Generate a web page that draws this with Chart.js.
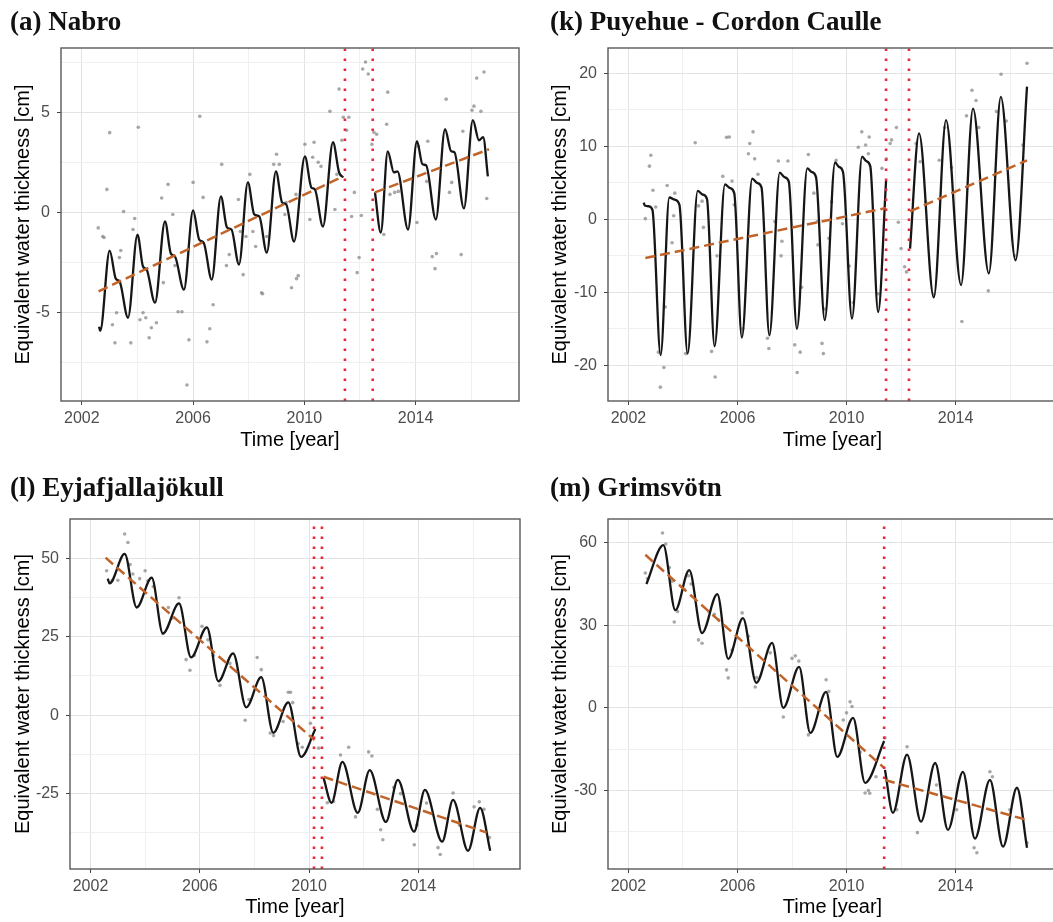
<!DOCTYPE html>
<html><head><meta charset="utf-8">
<script src="https://cdn.jsdelivr.net/npm/chart.js@4.4.1/dist/chart.umd.min.js"></script>
<style>
html,body{margin:0;padding:0;background:#fff;overflow:hidden;}
#wrap{position:relative;width:1053px;height:922px;overflow:hidden;background:#fff;}
canvas{position:absolute;}
</style></head><body>
<div id="wrap">
<canvas id="cA" width="527" height="460" style="left:0;top:0"></canvas>
<canvas id="cK" width="540" height="460" style="left:527px;top:0"></canvas>
<canvas id="cL" width="527" height="462" style="left:0;top:460px"></canvas>
<canvas id="cM" width="540" height="462" style="left:527px;top:460px"></canvas>
</div>
<script>
// ---------- shared axis values ----------
const xMin = 2001.25, xMax = 2017.72;
const yearGridlines = [2002, 2004, 2006, 2008, 2010, 2012, 2014, 2016];
const yearLabels = [2002, 2006, 2010, 2014];

// ---------- (a) Nabro ----------
const nabroEvents = [2011.46, 2012.46];
const nabroTrend1 = [[2002.6, -3.93], [2011.4, 1.8]];
const nabroTrend2 = [[2012.54, 1.0], [2016.64, 3.15]];
const nabroFit1 = [[2002.62,-5.7],[2002.66,-5.9],[2003.0,-1.9],[2003.22,-3.3],[2003.36,-3.45],[2003.66,-5.25],
  [2004.0,-1.1],[2004.2,-2.7],[2004.33,-2.85],[2004.63,-4.5],[2004.99,-0.45],[2005.2,-2.05],[2005.35,-2.2],[2005.67,-3.85],
  [2006.0,0.1],[2006.22,-1.35],[2006.38,-1.5],[2006.67,-3.35],[2007.0,0.8],[2007.22,-0.75],[2007.38,-0.85],[2007.65,-2.6],
  [2007.97,1.5],[2008.2,-0.1],[2008.38,-0.2],[2008.65,-2.0],[2008.98,2.05],[2009.2,0.5],[2009.35,0.4],[2009.63,-1.45],
  [2010.02,2.8],[2010.25,1.25],[2010.38,1.15],[2010.67,-0.7],[2011.03,3.5],[2011.25,2.0],[2011.4,1.75]];
const nabroFit2 = [[2012.54,1.0],[2012.75,-1.0],[2013.0,3.05],[2013.22,2.0],[2013.35,2.05],[2013.73,-0.85],
  [2014.05,3.55],[2014.25,2.4],[2014.38,2.35],[2014.73,-0.35],[2015.06,4.15],[2015.28,3.05],[2015.4,3.0],[2015.74,0.2],
  [2016.06,4.6],[2016.28,3.6],[2016.43,3.75],[2016.6,1.8]];
const nabroPoints = [[2002.59,-0.77],[2002.75,-1.2],[2002.8,-1.25],[2002.9,1.15],[2003.0,3.98],[2003.1,-5.6],[2003.19,-6.5],
  [2003.25,-5.0],[2003.35,-2.25],[2003.4,-1.9],[2003.5,0.05],[2003.76,-6.5],[2003.84,-0.85],[2003.9,-0.3],[2004.03,4.25],
  [2004.09,-5.35],[2004.2,-5.0],[2004.3,-5.25],[2004.42,-6.25],[2004.5,-5.75],[2004.68,-5.5],[2004.87,0.72],[2004.93,-3.5],
  [2005.1,1.4],[2005.27,-0.1],[2005.35,-2.65],[2005.46,-4.95],[2005.6,-4.95],[2005.78,-8.6],[2005.85,-6.35],[2006.0,1.5],
  [2006.24,4.8],[2006.36,0.75],[2006.5,-6.45],[2006.6,-5.8],[2006.72,-4.6],[2007.03,2.4],[2007.2,-2.65],[2007.3,-2.1],
  [2007.63,0.65],[2007.7,-0.95],[2007.8,-3.1],[2007.9,-1.2],[2008.04,1.9],[2008.15,-0.95],[2008.25,-1.7],[2008.46,-4.0],
  [2008.5,-4.05],[2008.65,-1.2],[2008.9,2.4],[2009.0,2.9],[2009.1,2.4],[2009.3,-0.1],[2009.35,0.5],[2009.54,-3.75],
  [2009.7,0.9],[2009.72,-3.3],[2009.78,-3.15],[2010.02,3.4],[2010.2,-0.35],[2010.3,2.75],[2010.35,3.5],[2010.5,2.5],
  [2010.6,2.3],[2010.92,5.05],[2011.1,0.15],[2011.17,1.9],[2011.25,6.15],[2011.35,3.6],[2011.4,4.75],[2011.52,4.1],
  [2011.6,4.75],[2011.7,-0.2],[2011.8,1.0],[2011.9,-3.0],[2011.97,-2.25],[2012.05,-0.15],[2012.1,7.15],[2012.2,7.5],
  [2012.3,6.9],[2012.43,3.4],[2012.5,4.0],[2012.6,3.9],[2012.86,-1.1],[2012.96,4.4],[2013.0,6.0],[2013.08,0.9],
  [2013.25,1.0],[2013.38,1.05],[2014.05,-0.5],[2014.1,3.3],[2014.4,1.55],[2014.44,3.55],[2014.6,-2.2],[2014.7,-2.8],
  [2014.75,-2.05],[2015.1,5.65],[2015.22,1.0],[2015.3,1.5],[2015.64,-2.1],[2015.7,4.05],[2016.03,5.1],[2016.1,5.3],
  [2016.2,6.7],[2016.35,5.05],[2016.46,7.0],[2016.56,0.7]];
const nabroYGrid = [-7.5, -5, -2.5, 0, 2.5, 5, 7.5];
const nabroYLabels = [-5, 0, 5];

// ---------- (k) Puyehue - Cordon Caulle ----------
const puyEvents = [2011.45, 2012.29];
const puyTrend1 = [[2002.62, -5.3], [2011.45, 1.55]];
const puyTrend2 = [[2012.33, 1.1], [2016.62, 8.1]];
const puyFit1 = [[2002.56,2.3],[2002.6,1.9],[2002.75,1.8],[2002.88,1.3],[2003.18,-18.6],
  [2003.5,3.0],[2003.7,2.7],[2003.87,2.0],[2004.17,-18.4],
  [2004.54,3.9],[2004.72,3.4],[2004.88,2.8],[2005.16,-17.4],
  [2005.54,4.8],[2005.72,4.3],[2005.88,3.6],[2006.16,-16.2],
  [2006.54,5.6],[2006.72,5.0],[2006.88,4.4],[2007.17,-15.9],
  [2007.55,6.4],[2007.72,5.8],[2007.88,5.2],[2008.18,-15.0],
  [2008.56,7.0],[2008.72,6.5],[2008.88,5.8],[2009.2,-13.8],
  [2009.58,7.8],[2009.72,7.2],[2009.87,6.5],[2010.2,-13.6],
  [2010.57,8.6],[2010.72,8.0],[2010.87,7.3],[2011.16,-12.7],[2011.45,5.3]];
const puyFit2 = [[2012.33,-4.0],[2012.66,11.8],[2013.2,-10.7],[2013.65,13.6],[2014.2,-9.0],[2014.64,15.2],
  [2015.22,-7.4],[2015.66,16.8],[2016.2,-5.6],[2016.62,18.2]];
const puyPoints = [[2002.62,0.1],[2002.77,7.3],[2002.82,8.8],[2002.9,4.0],[2003.0,1.7],[2003.1,-18.2],[2003.17,-23.0],
  [2003.3,-20.3],[2003.35,-12.0],[2003.42,4.65],[2003.6,-3.2],[2003.66,0.5],[2003.7,3.6],[2004.1,-18.4],[2004.45,10.5],
  [2004.57,1.85],[2004.7,2.5],[2004.75,-1.1],[2005.05,-18.1],[2005.18,-21.6],[2005.25,-5.0],[2005.46,5.9],[2005.6,11.25],
  [2005.7,11.3],[2005.8,5.25],[2005.88,2.0],[2006.2,-15.0],[2006.4,9.0],[2006.45,10.4],[2006.57,12.0],[2006.63,8.3],
  [2006.75,6.2],[2007.1,-16.3],[2007.15,-17.7],[2007.37,-0.3],[2007.5,8.0],[2007.6,-5.0],[2007.63,-3.0],[2007.85,8.0],
  [2008.1,-17.2],[2008.19,-21.0],[2008.3,-18.2],[2008.35,-9.3],[2008.6,8.9],[2008.8,3.6],[2008.93,-0.3],[2008.95,-3.5],
  [2009.1,-17.0],[2009.15,-18.4],[2009.2,-12.3],[2009.35,-2.6],[2009.45,2.4],[2009.62,8.1],[2009.85,-0.6],[2010.1,-6.4],
  [2010.25,-11.4],[2010.43,9.9],[2010.56,12.0],[2010.7,10.2],[2010.8,9.0],[2010.83,11.3],[2011.16,-10.2],[2011.3,7.0],
  [2011.46,8.3],[2011.6,10.4],[2011.65,10.9],[2011.83,12.6],[2011.9,-0.4],[2012.0,-4.0],[2012.13,-6.5],[2012.2,-7.2],
  [2012.55,10.4],[2012.7,7.9],[2012.9,2.4],[2013.2,-10.3],[2013.4,8.1],[2013.6,12.6],[2013.85,7.1],[2014.23,-14.0],
  [2014.4,14.2],[2014.6,17.7],[2014.75,16.3],[2014.85,12.6],[2015.2,-9.8],[2015.5,14.8],[2015.67,19.9],[2015.86,13.5],
  [2016.17,-5.0],[2016.47,10.2],[2016.62,21.4]];
const puyYGrid = [-20, -15, -10, -5, 0, 5, 10, 15, 20];
const puyYLabels = [-20, -10, 0, 10, 20];

// ---------- (l) Eyjafjallajökull ----------
const eyjaEvents = [2010.18, 2010.47];
const eyjaTrend1 = [[2002.55, 50.2], [2010.2, -7.9]];
const eyjaTrend2 = [[2010.53, -19.6], [2016.5, -37.4]];
const eyjaFit1 = [[2002.63,43.5],[2002.7,42.0],[2003.25,51.4],[2003.69,34.3],[2004.24,43.8],[2004.65,26.0],
  [2005.24,35.6],[2005.68,18.4],[2006.26,28.0],[2006.68,10.8],[2007.22,19.7],[2007.7,2.5],[2008.25,12.1],
  [2008.69,-5.6],[2009.24,4.1],[2009.71,-13.3],[2010.23,-4.4]];
const eyjaFit2 = [[2010.53,-20.0],[2010.82,-27.9],[2011.22,-14.9],[2011.78,-31.1],[2012.22,-17.5],[2012.81,-34.0],
  [2013.25,-20.6],[2013.84,-37.1],[2014.24,-23.8],[2014.87,-40.3],[2015.27,-27.0],[2015.82,-43.2],[2016.26,-29.5],
  [2016.63,-43.2]];
const eyjaPoints = [[2002.59,46.0],[2002.8,43.0],[2003.0,43.0],[2003.25,57.7],[2003.37,55.0],[2003.45,48.0],[2003.55,45.0],
  [2003.8,43.5],[2004.0,46.0],[2004.1,42.8],[2004.3,41.0],[2004.65,26.0],[2004.85,34.3],[2005.0,31.0],[2005.24,37.4],
  [2005.5,17.7],[2005.64,14.3],[2005.8,19.0],[2006.08,28.3],[2006.3,24.0],[2006.5,19.0],[2006.74,9.5],[2007.1,16.5],
  [2007.35,14.0],[2007.66,-1.6],[2007.8,5.0],[2008.1,18.4],[2008.25,14.5],[2008.58,-5.7],[2008.7,-6.5],[2009.05,-2.0],
  [2009.24,7.3],[2009.32,7.3],[2009.4,4.0],[2009.6,-9.0],[2009.75,-10.2],[2010.05,-2.6],[2010.16,2.3],[2010.35,-10.5],
  [2010.67,-27.9],[2010.9,-27.5],[2011.15,-12.7],[2011.45,-10.2],[2011.7,-32.4],[2012.18,-11.7],[2012.3,-13.0],
  [2012.5,-30.0],[2012.62,-36.5],[2012.7,-39.7],[2013.1,-23.0],[2013.35,-25.0],[2013.85,-41.3],[2013.95,-35.0],
  [2014.3,-28.0],[2014.72,-42.2],[2014.8,-44.4],[2015.27,-24.8],[2015.5,-35.0],[2016.04,-29.2],[2016.23,-27.6],
  [2016.4,-30.0],[2016.6,-39.0]];
const eyjaYGrid = [-37.5, -25, -12.5, 0, 12.5, 25, 37.5, 50];
const eyjaYLabels = [-25, 0, 25, 50];

// ---------- (m) Grimsvötn ----------
const grimEvents = [2011.38];
const grimTrend1 = [[2002.62, 55.6], [2011.38, -21.8]];
const grimTrend2 = [[2011.41, -26.2], [2016.62, -40.7]];
const grimFit1 = [[2002.66,45.0],[2003.28,59.1],[2003.72,35.5],[2004.23,50.0],[2004.7,27.2],[2005.26,41.3],
  [2005.66,17.8],[2006.2,32.6],[2006.69,9.1],[2007.27,23.6],[2007.68,0.0],[2008.26,14.9],[2008.67,-9.1],
  [2009.25,5.8],[2009.66,-17.8],[2010.24,-3.6],[2010.68,-27.2],[2011.38,-12.0]];
const grimFit2 = [[2011.41,-22.5],[2011.7,-38.1],[2012.22,-17.0],[2012.73,-41.3],[2013.25,-20.0],[2013.72,-44.3],
  [2014.27,-23.2],[2014.71,-47.5],[2015.26,-26.1],[2015.74,-50.4],[2016.25,-29.0],[2016.62,-50.8]];
const grimPoints = [[2002.62,49.0],[2002.7,47.0],[2003.25,63.5],[2003.37,59.5],[2003.5,51.0],[2003.6,46.0],[2003.68,31.2],
  [2003.8,35.0],[2004.05,43.0],[2004.2,48.0],[2004.3,45.0],[2004.57,24.7],[2004.7,23.5],[2004.95,35.0],[2005.15,34.0],
  [2005.3,32.0],[2005.6,13.8],[2005.66,10.9],[2005.8,21.0],[2006.17,34.5],[2006.4,26.0],[2006.65,7.6],[2006.7,11.0],
  [2007.2,20.0],[2007.68,-3.3],[2008.0,18.0],[2008.12,18.9],[2008.25,17.0],[2008.6,-9.8],[2009.25,10.2],[2009.35,6.0],
  [2009.88,-4.4],[2010.0,-1.8],[2010.13,2.2],[2010.2,0.5],[2010.5,-16.0],[2010.68,-30.9],[2010.8,-30.0],[2010.85,-31.0],
  [2011.08,-25.0],[2011.41,-10.9],[2011.84,-37.0],[2012.22,-14.1],[2012.6,-45.3],[2013.3,-28.0],[2014.04,-37.0],
  [2014.68,-50.8],[2014.78,-52.6],[2015.26,-23.2],[2015.35,-25.0],[2015.99,-37.0],[2016.62,-49.0]];
const grimYGrid = [-45, -30, -15, 0, 15, 30, 45, 60];
const grimYLabels = [-30, 0, 30, 60];

// ---------- drawing ----------
const SANS = "'Liberation Sans', Arial, sans-serif";
const SERIF = "'Liberation Serif', 'Times New Roman', serif";
function pts(pairs) { return pairs.map(p => ({ x: p[0], y: p[1] })); }
function has(list, v) { return list.some(t => Math.abs(t - v) < 1e-6); }

const panelBorder = {
  id: 'panelBorder',
  afterDatasetsDraw(chart) {
    const { ctx, chartArea: a } = chart;
    ctx.save();
    ctx.strokeStyle = '#595959';
    ctx.lineWidth = 1.4;
    ctx.strokeRect(a.left, a.top, a.right - a.left, a.bottom - a.top);
    ctx.restore();
  }
};

function makePanel(id, p) {
  const datasets = [];
  p.events.forEach(yr => datasets.push({
    data: [{ x: yr, y: p.yMin }, { x: yr, y: p.yMax }], showLine: true,
    borderColor: '#e8283a', borderWidth: 2.6, borderDash: [2.6, 7.4], pointRadius: 0, pointHoverRadius: 0
  }));
  p.trends.forEach(t => datasets.push({
    data: pts(t), showLine: true, borderColor: '#c0642a', borderWidth: 2.5, borderDash: [10, 5],
    pointRadius: 0, pointHoverRadius: 0
  }));
  p.fits.forEach(f => datasets.push({
    data: pts(f), showLine: true, borderColor: '#161616', borderWidth: 2.3,
    cubicInterpolationMode: 'monotone', pointRadius: 0, pointHoverRadius: 0
  }));
  datasets.push({
    data: pts(p.points), showLine: false, pointRadius: 1.8, pointHoverRadius: 1.8,
    pointBackgroundColor: 'rgba(130,130,130,0.7)', pointBorderWidth: 0
  });

  const gridColor = (labels) => (c) => has(labels, c.tick.value) ? '#e3e3e3' : '#f0f0f0';
  const tickColor = (labels) => (c) => has(labels, c.tick.value) ? '#444444' : 'rgba(0,0,0,0)';

  new Chart(document.getElementById(id), {
    type: 'line',
    data: { datasets },
    options: {
      responsive: false, animation: false, devicePixelRatio: 1,
      events: [],
      layout: { padding: { left: p.padL, right: p.padR, top: 0, bottom: 0 } },
      plugins: {
        legend: { display: false }, tooltip: { enabled: false },
        title: {
          display: true, text: p.title, align: 'start', color: '#111',
          font: { family: SERIF, size: 27, weight: 'bold', lineHeight: 1 },
          padding: { top: p.titleTop, bottom: p.titleBottom }
        }
      },
      scales: {
        x: {
          type: 'linear', min: xMin, max: xMax,
          afterBuildTicks: s => { s.ticks = yearGridlines.map(v => ({ value: v })); },
          afterFit: s => { s.height = p.xAxisH; },
          ticks: {
            autoSkip: false, maxRotation: 0, padding: 4, color: '#4d4d4d',
            font: { family: SANS, size: 16 },
            callback: v => has(yearLabels, v) ? String(v) : ''
          },
          grid: { color: gridColor(yearLabels), lineWidth: 1, tickLength: 4, tickColor: tickColor(yearLabels), tickWidth: 1 },
          border: { display: false },
          title: {
            display: true, text: 'Time [year]', color: '#000',
            font: { family: SANS, size: 20, lineHeight: 1 },
            padding: { top: 0, bottom: p.xTitlePad }
          }
        },
        y: {
          type: 'linear', min: p.yMin, max: p.yMax,
          afterBuildTicks: s => { s.ticks = p.yGrid.map(v => ({ value: v })); },
          afterFit: s => { s.width = p.yAxisW; },
          ticks: {
            autoSkip: false, padding: 7, color: '#4d4d4d',
            font: { family: SANS, size: 16 },
            callback: v => has(p.yLabels, v) ? String(v) : ''
          },
          grid: { color: gridColor(p.yLabels), lineWidth: 1, tickLength: 4, tickColor: tickColor(p.yLabels), tickWidth: 1 },
          border: { display: false },
          title: {
            display: true, text: 'Equivalent water thickness [cm]', color: '#000',
            font: { family: SANS, size: 20, lineHeight: 1 },
            padding: { top: p.yTitlePad, bottom: 0 }
          }
        }
      }
    },
    plugins: [panelBorder]
  });
}

makePanel('cA', {
  title: '(a) Nabro', events: nabroEvents, trends: [nabroTrend1, nabroTrend2], fits: [nabroFit1, nabroFit2],
  points: nabroPoints, yMin: -9.4, yMax: 8.2, yGrid: nabroYGrid, yLabels: nabroYLabels,
  padL: 10, padR: 8, yAxisW: 51, xAxisH: 59, titleTop: 10, titleBottom: 11, xTitlePad: 10, yTitlePad: 3
});
makePanel('cK', {
  title: '(k) Puyehue - Cordon Caulle', events: puyEvents, trends: [puyTrend1, puyTrend2], fits: [puyFit1, puyFit2],
  points: puyPoints, yMin: -24.9, yMax: 23.5, yGrid: puyYGrid, yLabels: puyYLabels,
  padL: 23, padR: 10, yAxisW: 58, xAxisH: 59, titleTop: 10, titleBottom: 11, xTitlePad: 10, yTitlePad: 0
});
makePanel('cL', {
  title: '(l) Eyjafjallajökull', events: eyjaEvents, trends: [eyjaTrend1, eyjaTrend2], fits: [eyjaFit1, eyjaFit2],
  points: eyjaPoints, yMin: -49.0, yMax: 62.5, yGrid: eyjaYGrid, yLabels: eyjaYLabels,
  padL: 10, padR: 7, yAxisW: 60, xAxisH: 53, titleTop: 16, titleBottom: 16, xTitlePad: 5, yTitlePad: 3
});
makePanel('cM', {
  title: '(m) Grimsvötn', events: grimEvents, trends: [grimTrend1, grimTrend2], fits: [grimFit1, grimFit2],
  points: grimPoints, yMin: -58.5, yMax: 68.6, yGrid: grimYGrid, yLabels: grimYLabels,
  padL: 23, padR: 10, yAxisW: 58, xAxisH: 53, titleTop: 16, titleBottom: 16, xTitlePad: 5, yTitlePad: 0
});
</script>
</body></html>
